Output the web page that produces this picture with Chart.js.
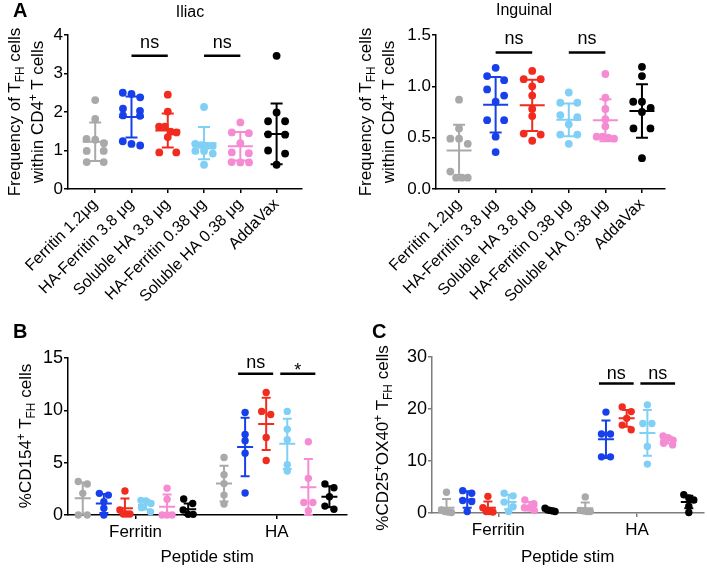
<!DOCTYPE html>
<html>
<head>
<meta charset="utf-8">
<script src="https://cdn.jsdelivr.net/npm/chart.js@4.4.1/dist/chart.umd.min.js"></script>
<style>
  body { margin: 0; width: 707px; height: 569px; position: relative; overflow: hidden; background: #fff;
         font-family: 'Liberation Sans', Arial, sans-serif; color: #000; }
  canvas { position: absolute; }
  .t { position: absolute; white-space: nowrap; transform: translate(-50%, -50%); }
  .rot { transform: translate(-50%, -50%) rotate(-90deg); text-align: center; font-size: 17px; line-height: 23px; }
  .letter { position: absolute; font-weight: bold; font-size: 20px; line-height: 20px; }
  sub, sup { font-size: 70%; line-height: 0; position: relative; vertical-align: baseline; }
  sub { top: 0.3em; }
  sup { top: -0.5em; }
</style>
</head>
<body>
<canvas id="iliac" width="345" height="305" style="left:0;top:0"></canvas>
<canvas id="inguinal" width="357" height="305" style="left:350px;top:0"></canvas>
<canvas id="cd154" width="350" height="259" style="left:0;top:310px"></canvas>
<canvas id="ox40" width="357" height="259" style="left:350px;top:310px"></canvas>

<div class="letter" style="left:13px;top:0">A</div>
<div class="t" style="left:190px;top:12px;font-size:16px">Iliac</div>
<div class="t" style="left:524px;top:10px;font-size:16px">Inguinal</div>
<div class="t rot" style="left:26px;top:112px">Frequency of T<sub>FH</sub> cells<br>within CD4<sup>+</sup> T cells</div>
<div class="t rot" style="left:377px;top:112px">Frequency of T<sub>FH</sub> cells<br>within CD4<sup>+</sup> T cells</div>
<div class="letter" style="left:13px;top:321px">B</div>
<div class="letter" style="left:372px;top:321px">C</div>
<div class="t rot" style="left:25px;top:436px">%CD154<sup>+</sup> T<sub>FH</sub> cells</div>
<div class="t rot" style="left:382px;top:438px">%CD25<sup>+</sup>OX40<sup>+</sup> T<sub>FH</sub> cells</div>

<script>
// ---- data ----
const colors = ['#a9a9a9', '#1740ea', '#f22b1f', '#80d0f5', '#f58cd3', '#000000'];
const vaccineLabels = ['Ferritin 1.2μg', 'HA-Ferritin 3.8 μg', 'Soluble HA 3.8 μg', 'HA-Ferritin 0.38 μg', 'Soluble HA 0.38 μg', 'AddaVax'];

const iliacValues = [
    [2.31, 1.82, 1.30, 1.28, 1.19, 0.99, 0.99, 0.70, 0.70],
    [2.50, 2.47, 2.38, 2.09, 2.03, 1.91, 1.90, 1.24, 1.17, 1.13],
    [2.45, 2.01, 1.62, 1.62, 1.49, 1.47, 1.35, 0.95, 0.95],
    [2.13, 1.17, 1.14, 1.12, 1.12, 0.99, 0.99, 0.92, 0.63],
    [1.73, 1.47, 1.45, 1.19, 0.95, 0.93, 0.70, 0.69, 0.69],
    [3.46, 1.99, 1.76, 1.76, 1.42, 1.41, 1.00, 0.92, 0.63]
];
const iliacMean = [1.23, 1.87, 1.52, 1.19, 1.11, 1.43];
const iliacSD = [0.50, 0.53, 0.44, 0.42, 0.37, 0.79];
const iliacTicks = [0, 1, 2, 3, 4];
const iliacSig = [[1, 2, 3.46, 'ns'], [3, 4, 3.46, 'ns']];

const inguinalValues = [
    [0.87, 0.59, 0.49, 0.49, 0.44, 0.17, 0.11, 0.11, 0.11],
    [1.18, 1.10, 1.06, 0.97, 0.91, 0.85, 0.67, 0.67, 0.51, 0.36],
    [1.15, 1.07, 1.07, 1.00, 0.91, 0.78, 0.71, 0.54, 0.53, 0.47],
    [0.94, 0.84, 0.84, 0.72, 0.70, 0.63, 0.53, 0.53, 0.44],
    [1.12, 0.89, 0.78, 0.68, 0.61, 0.51, 0.51, 0.50, 0.49],
    [1.19, 1.10, 0.85, 0.85, 0.79, 0.75, 0.59, 0.59, 0.30]
];
const inguinalMean = [0.376, 0.82, 0.815, 0.674, 0.67, 0.76];
const inguinalSD = [0.25, 0.27, 0.25, 0.16, 0.205, 0.26];
const inguinalTicks = [0, 0.5, 1.0, 1.5];
const inguinalSig = [[1, 2, 1.33, 'ns'], [3, 4, 1.33, 'ns']];

const stimGroups = ['Ferritin', 'HA'];

const cd154Ferritin = [
    [3.2, 2.96, 2.07, 0, 0],
    [2.07, 1.9, 1.27, 0.64, 0],
    [2.29, 0.48, 0.1, 0.1, 0.1],
    [1.4, 1.35, 1.1, 0.7, 0.3],
    [2.55, 1.5, 0, 0, 0],
    [1.53, 1.1, 0.48, 0.06, 0.06]
];
const cd154FerritinMean = [1.6, 1.1, 0.64, 0.97, 0.8, 0.55];
const cd154FerritinSD = [1.5, 0.9, 0.93, 0.45, 1.15, 0.55];
const cd154HA = [
    [5.5, 3.85, 3.0, 1.9, 1.05],
    [9.8, 7.7, 7.1, 5.9, 2.1],
    [11.7, 9.9, 9.6, 7.4, 5.2],
    [9.9, 8.2, 7.2, 4.8, 4.2],
    [7.0, 3.5, 1.2, 1.2, 0.4],
    [2.97, 2.6, 1.75, 0.85, 0.55]
];
const cd154HAMean = [3.0, 6.5, 8.7, 6.8, 2.65, 1.74];
const cd154HASD = [1.7, 2.8, 2.5, 2.4, 2.7, 1.0];
const cd154Ticks = [0, 5, 10, 15];
const cd154Sig = [[1, 1, 2, 13.5, 'ns'], [1, 3, 4, 13.5, '*']];

const ox40Ferritin = [
    [4.0, 0.6, 0.3, 0.2, 0.1],
    [4.3, 3.8, 2.4, 2.2, 0.3],
    [3.2, 1.0, 0.3, 0.3, 0.2],
    [3.8, 3.3, 2.1, 1.2, 0.3],
    [2.5, 1.8, 1.0, 1.0, 0.5],
    [0.9, 0.6, 0.5, 0.4, 0.3]
];
const ox40FerritinMean = [1.0, 2.6, 1.0, 2.1, 1.3, 0.55];
const ox40FerritinSD = [1.7, 1.6, 1.2, 1.4, 0.8, 0.25];
const ox40HA = [
    [3.1, 0.5, 0.4, 0.3, 0.3],
    [19.4, 15.2, 15.2, 10.8, 10.8],
    [20.4, 19.5, 18.2, 16.9, 16.0],
    [20.8, 17.2, 17.2, 12.8, 9.4],
    [14.8, 14.5, 14.0, 13.4, 13.1],
    [3.5, 2.9, 2.5, 1.3, 0.1]
];
const ox40HAMean = [0.9, 14.2, 18.2, 15.4, 14.0, 2.1];
const ox40HASD = [1.1, 3.6, 1.6, 4.4, 0.65, 1.2];
const ox40Ticks = [0, 10, 20, 30];
const ox40Sig = [[1, 1, 2, 24.9, 'ns'], [1, 3, 4, 24.9, 'ns']];

// ---- chart setup ----
const FONT = "'Liberation Sans', Arial, sans-serif";
Chart.defaults.font.family = FONT;
Chart.defaults.color = '#000';
const GROUP_GAP = 6.7;

function singleGroups(values, means, sds) {
    return values.map((vals, s) => ({ x: s, values: vals, mean: means[s], sd: sds[s], color: colors[s] }));
}

function stimGroupsOf(sets) {
    return sets.flatMap(([values, means, sds], g) =>
        values.map((vals, s) => ({ x: g * GROUP_GAP + s - 2.5, values: vals, mean: means[s], sd: sds[s], color: colors[s] })));
}

// mean line + SD whiskers
function meanSdPlugin(meanHalf, capHalf) {
    return {
        id: 'meanSd',
        afterDatasetsDraw(chart) {
            const { ctx, scales: { x, y } } = chart;
            ctx.save();
            ctx.lineWidth = 2;
            chart.data.datasets.forEach(ds => {
                const g = ds.stats;
                const cx = x.getPixelForValue(g.x);
                const m = y.getPixelForValue(g.mean);
                const hi = y.getPixelForValue(g.mean + g.sd);
                const lo = y.getPixelForValue(Math.max(g.mean - g.sd, y.min));
                ctx.strokeStyle = g.color;
                ctx.beginPath();
                ctx.moveTo(cx, hi); ctx.lineTo(cx, lo);
                ctx.moveTo(cx - capHalf, hi); ctx.lineTo(cx + capHalf, hi);
                ctx.moveTo(cx - capHalf, lo); ctx.lineTo(cx + capHalf, lo);
                ctx.moveTo(cx - meanHalf, m); ctx.lineTo(cx + meanHalf, m);
                ctx.stroke();
            });
            ctx.restore();
        }
    };
}

// comparison bars with labels; items are [x1, x2, y, label]
function sigPlugin(items, extend, gap) {
    return {
        id: 'sig',
        afterDatasetsDraw(chart) {
            const { ctx, scales: { x, y } } = chart;
            ctx.save();
            ctx.strokeStyle = '#000';
            ctx.fillStyle = '#000';
            ctx.lineWidth = 2.5;
            ctx.font = '18px ' + FONT;
            ctx.textAlign = 'center';
            ctx.textBaseline = 'alphabetic';
            items.forEach(([x1, x2, v, label]) => {
                const a = x.getPixelForValue(x1) - extend;
                const b = x.getPixelForValue(x2) + extend;
                const py = y.getPixelForValue(v);
                ctx.beginPath();
                ctx.moveTo(a, py); ctx.lineTo(b, py);
                ctx.stroke();
                ctx.fillText(label, (a + b) / 2, label === '*' ? py + 2 : py - gap);
            });
            ctx.restore();
        }
    };
}

function valueAxis(ticks, width, fmt, color, size) {
    return {
        min: ticks[0], max: ticks[ticks.length - 1],
        afterBuildTicks: s => { s.ticks = ticks.map(v => ({ value: v })); },
        afterFit: s => { s.width = width; },
        border: { color: color, width: 1.5 },
        grid: { drawOnChartArea: false, tickLength: 4, color: color, lineWidth: 1.5 },
        ticks: { padding: 1, font: { size: size }, color: '#000', callback: fmt }
    };
}

function vaccineAxis(min, max) {
    return {
        type: 'linear', min, max,
        afterBuildTicks: s => { s.ticks = vaccineLabels.map((_, i) => ({ value: i })); },
        afterFit: s => { s.height = 116; s.paddingLeft = 0; s.paddingRight = 0; },
        border: { color: '#000', width: 1.5 },
        grid: { drawOnChartArea: false, tickLength: 4, color: '#000', lineWidth: 1.5 },
        ticks: { autoSkip: false, minRotation: 45, maxRotation: 45, padding: 2, font: { size: 16 }, color: '#000',
                 callback: v => vaccineLabels[v] }
    };
}

function stimAxis(min, max, height, color) {
    return {
        type: 'linear', min, max,
        afterBuildTicks: s => { s.ticks = stimGroups.map((_, g) => ({ value: g * GROUP_GAP })); },
        afterFit: s => { s.height = height; s.paddingLeft = 0; s.paddingRight = 0; },
        border: { color: color, width: 1.5 },
        grid: { drawOnChartArea: false, tickLength: 4, color: color, lineWidth: 1.5 },
        ticks: { autoSkip: false, minRotation: 0, maxRotation: 0, padding: 3, font: { size: 17 }, color: '#000',
                 callback: v => stimGroups[Math.round(v / GROUP_GAP)] },
        title: { display: true, text: 'Peptide stim', font: { size: 17 }, color: '#000', padding: { top: 0, bottom: 1 } }
    };
}

// spread points sideways where values sit on the same row (Prism-like)
function spreadPoints(chart, step, maxWidth, rowGap) {
    const xs = chart.scales.x, ys = chart.scales.y;
    const unit = xs.getPixelForValue(1) - xs.getPixelForValue(0);
    chart.data.datasets.forEach(ds => {
        const pts = ds.stats.values.map(v => ({ x: ds.stats.x, y: v, py: ys.getPixelForValue(v) }))
            .sort((a, b) => a.py - b.py);
        const rows = [];
        let row = [];
        pts.forEach(p => {
            if (row.length && p.py - row[0].py >= rowGap) { rows.push(row); row = []; }
            row.push(p);
        });
        if (row.length) rows.push(row);
        rows.forEach(r => {
            const n = r.length;
            const st = n > 1 ? Math.min(step, maxWidth / (n - 1)) : 0;
            r.forEach((p, i) => { p.x = ds.stats.x + (i - (n - 1) / 2) * st / unit; });
        });
        ds.data = pts.map(p => ({ x: p.x, y: p.y }));
    });
    chart.update('none');
}

function dotChart(id, cfg) {
    const datasets = cfg.groups.map(g => ({
        data: g.values.map(v => ({ x: g.x, y: v })),
        stats: g,
        backgroundColor: g.color,
        borderColor: g.color,
        pointRadius: cfg.radius,
        pointHoverRadius: cfg.radius,
        pointBorderWidth: 0,
        clip: false
    }));
    const chart = new Chart(document.getElementById(id), {
        type: 'scatter',
        data: { datasets },
        options: {
            responsive: false,
            animation: false,
            events: [],
            layout: { padding: cfg.padding },
            plugins: { legend: { display: false }, tooltip: { enabled: false } },
            scales: { x: cfg.x, y: cfg.y }
        },
        plugins: [meanSdPlugin(cfg.meanHalf, cfg.capHalf), sigPlugin(cfg.sig, cfg.sigExtend, cfg.sigGap)]
    });
    spreadPoints(chart, cfg.step, cfg.maxWidth, cfg.rowGap);
    return chart;
}

dotChart('iliac', {
    groups: singleGroups(iliacValues, iliacMean, iliacSD),
    padding: { left: 0, top: 35, right: 43, bottom: 0 },
    x: vaccineAxis(-0.75, 5.7),
    y: valueAxis(iliacTicks, 68, v => v, '#000', 17),
    radius: 3.9, meanHalf: 12.5, capHalf: 6,
    sig: iliacSig, sigExtend: 0, sigGap: 8,
    step: 17, maxWidth: 17.4, rowGap: 6.5
});

dotChart('inguinal', {
    groups: singleGroups(inguinalValues, inguinalMean, inguinalSD),
    padding: { left: 0, top: 35, right: 42, bottom: 0 },
    x: vaccineAxis(-0.63, 5.63),
    y: valueAxis(inguinalTicks, 86, v => v.toFixed(1), '#000', 17),
    radius: 3.9, meanHalf: 12.5, capHalf: 6,
    sig: inguinalSig, sigExtend: 0, sigGap: 8,
    step: 17, maxWidth: 17.4, rowGap: 6.5
});

function stimSig(items) {
    return items.map(([g, s1, s2, v, label]) => [g * GROUP_GAP + s1 - 2.5, g * GROUP_GAP + s2 - 2.5, v, label]);
}

dotChart('cd154', {
    groups: stimGroupsOf([[cd154Ferritin, cd154FerritinMean, cd154FerritinSD], [cd154HA, cd154HAMean, cd154HASD]]),
    padding: { left: 0, top: 48, right: 2, bottom: 0 },
    x: stimAxis(-3.2, 10.0, 54, '#000'),
    y: valueAxis(cd154Ticks, 68, v => v, '#000', 18),
    radius: 3.7, meanHalf: 8, capHalf: 4.5,
    sig: stimSig(cd154Sig), sigExtend: 7, sigGap: 6,
    step: 9, maxWidth: 10, rowGap: 6
});

dotChart('ox40', {
    groups: stimGroupsOf([[ox40Ferritin, ox40FerritinMean, ox40FerritinSD], [ox40HA, ox40HAMean, ox40HASD]]),
    padding: { left: 0, top: 47, right: 1, bottom: 0 },
    x: stimAxis(-3.2, 9.9, 56, '#7d7d7d'),
    y: valueAxis(ox40Ticks, 82, v => v, '#7d7d7d', 18),
    radius: 3.7, meanHalf: 8, capHalf: 4.5,
    sig: stimSig(ox40Sig), sigExtend: 7, sigGap: 5,
    step: 9, maxWidth: 10, rowGap: 6
});
</script>
</body>
</html>
